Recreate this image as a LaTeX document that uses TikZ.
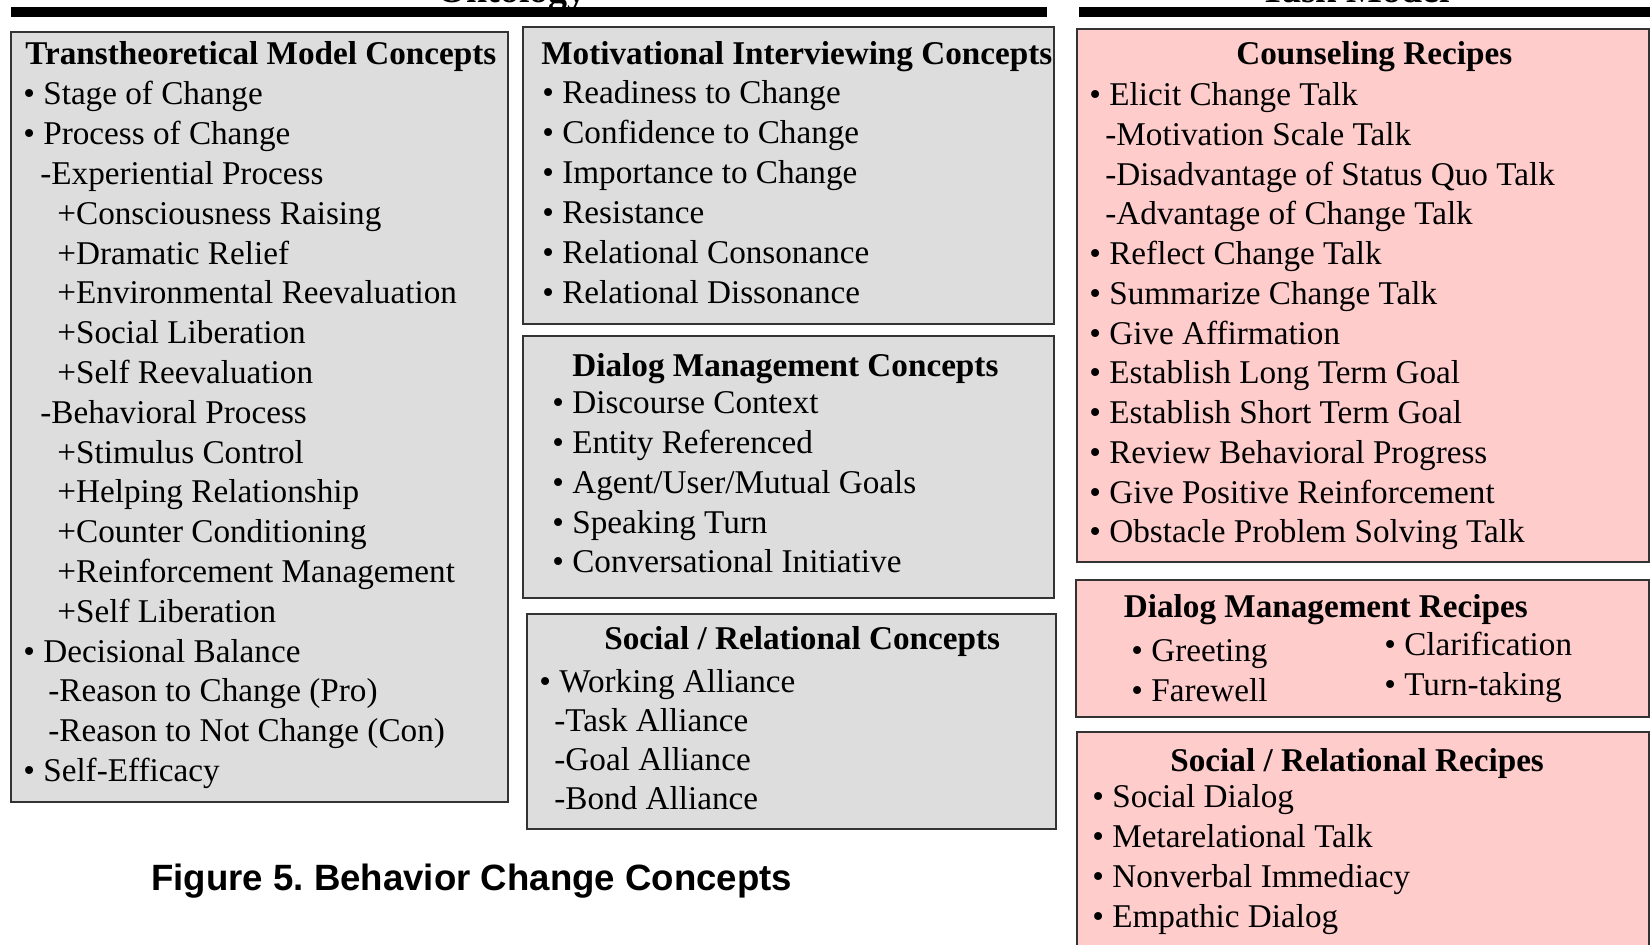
\documentclass[tikz,border=0pt]{standalone}
\usepackage{fontspec}
\setmainfont{Liberation Serif}
\newfontfamily\figcapfont{Liberation Sans}
\definecolor{conceptgray}{RGB}{221,221,221}
\definecolor{recipepink}{RGB}{255,204,204}
\definecolor{boxline}{RGB}{51,51,51}
\tikzstyle{concept box}=[draw=boxline,line width=1pt,fill=conceptgray]
\tikzstyle{recipe box}=[draw=boxline,line width=1pt,fill=recipepink]
\tikzstyle{box head}=[font=\fontsize{16.6}{19}\selectfont\bfseries,anchor=base west,inner sep=0pt]
\tikzstyle{item line}=[font=\fontsize{16.6}{19}\selectfont,anchor=base west,inner sep=0pt]
\tikzstyle{part title}=[font=\fontsize{19}{22}\selectfont\bfseries,anchor=base,inner sep=0pt]
\tikzstyle{fig caption}=[font=\figcapfont\bfseries\fontsize{18.3}{21}\selectfont,anchor=base west,inner sep=0pt]
\newcommand{\bul}{\textbullet\ }

\begin{document}
\begin{tikzpicture}[x=0.5pt,y=-0.5pt]
  \useasboundingbox (0,0) rectangle (1650,945);

  % Column titles and bars
  \node[part title] (ontology) at (512,3) {Ontology};
  \node[part title] (taskmodel) at (1355,3) {Task Model};
  \fill (10.5,7) rectangle (1047,17);
  \fill (1079,7) rectangle (1650,17);

  % Ontology boxes
  \path[concept box] (10.5,32) rectangle (508,802);
  \path[concept box] (523,27.5) rectangle (1054,324);
  \path[concept box] (523,336) rectangle (1054,598);
  \path[concept box] (527,614) rectangle (1056,829);

  % Task model boxes
  \path[recipe box] (1077,29) rectangle (1649,562);
  \path[recipe box] (1076,580) rectangle (1649,717);
  \path[recipe box] (1077,732) rectangle (1649,960);

  % Transtheoretical model
  \node[box head] (ttm) at (25,65) {Transtheoretical Model Concepts};
  \foreach \x/\txt [count=\i] in {23/\bul Stage of Change, 23/\bul Process of Change,
      40/-Experiential Process, 57/+Consciousness Raising, 57/+Dramatic Relief,
      57/+Environmental Reevaluation, 57/+Social Liberation, 57/+Self Reevaluation,
      40/-Behavioral Process, 57/+Stimulus Control, 57/+Helping Relationship,
      57/+Counter Conditioning, 57/+Reinforcement Management, 57/+Self Liberation,
      23/\bul Decisional Balance, 48/-Reason to Change (Pro),
      48/-Reason to Not Change (Con), 23/\bul Self-Efficacy}
    \node[item line] (ttm-\i) at (\x,{105+(\i-1)*39.8}) {\txt};

  % Motivational interviewing
  \node[box head] (mi) at (541,65) {Motivational Interviewing Concepts};
  \foreach \txt [count=\i] in {Readiness to Change, Confidence to Change,
      Importance to Change, Resistance, Relational Consonance, Relational Dissonance}
    \node[item line] (mi-\i) at (542,{104+(\i-1)*40}) {\bul\txt};

  % Dialog management
  \node[box head] (dm) at (572,377) {Dialog Management Concepts};
  \foreach \txt [count=\i] in {Discourse Context, Entity Referenced,
      {Agent/User/Mutual Goals}, Speaking Turn, Conversational Initiative}
    \node[item line] (dm-\i) at (552,{414+(\i-1)*39.7}) {\bul\txt};

  % Social / relational
  \node[box head] (sr) at (604,650) {Social / Relational Concepts};
  \foreach \x/\txt [count=\i] in {539/\bul Working Alliance, 554/-Task Alliance,
      554/-Goal Alliance, 554/-Bond Alliance}
    \node[item line] (sr-\i) at (\x,{693+(\i-1)*39}) {\txt};

  % Counseling recipes
  \node[box head] (cr) at (1236,64.6) {Counseling Recipes};
  \foreach \x/\txt [count=\i] in {1089/\bul Elicit Change Talk,
      1105/-Motivation Scale Talk, 1105/-Disadvantage of Status Quo Talk,
      1105/-Advantage of Change Talk, 1089/\bul Reflect Change Talk,
      1089/\bul Summarize Change Talk, 1089/\bul Give Affirmation,
      1089/\bul Establish Long Term Goal, 1089/\bul Establish Short Term Goal,
      1089/\bul Review Behavioral Progress, 1089/\bul Give Positive Reinforcement,
      1089/\bul Obstacle Problem Solving Talk}
    \node[item line] (cr-\i) at (\x,{105.7+(\i-1)*39.75}) {\txt};

  % Dialog management recipes
  \node[box head] (dmr) at (1123.5,618) {Dialog Management Recipes};
  \node[item line] (dmr-1) at (1131,661.7) {\bul Greeting};
  \node[item line] (dmr-2) at (1131,701.7) {\bul Farewell};
  \node[item line] (dmr-3) at (1384,656) {\bul Clarification};
  \node[item line] (dmr-4) at (1384,696) {\bul Turn-taking};

  % Social / relational recipes
  \node[box head] (srr) at (1170,771.7) {Social / Relational Recipes};
  \foreach \txt [count=\i] in {Social Dialog, Metarelational Talk,
      Nonverbal Immediacy, Empathic Dialog}
    \node[item line] (srr-\i) at (1092,{808+(\i-1)*40}) {\bul\txt};

  \node[fig caption] (figcap) at (151,891) {Figure 5.\ Behavior Change Concepts};
\end{tikzpicture}
\end{document}
